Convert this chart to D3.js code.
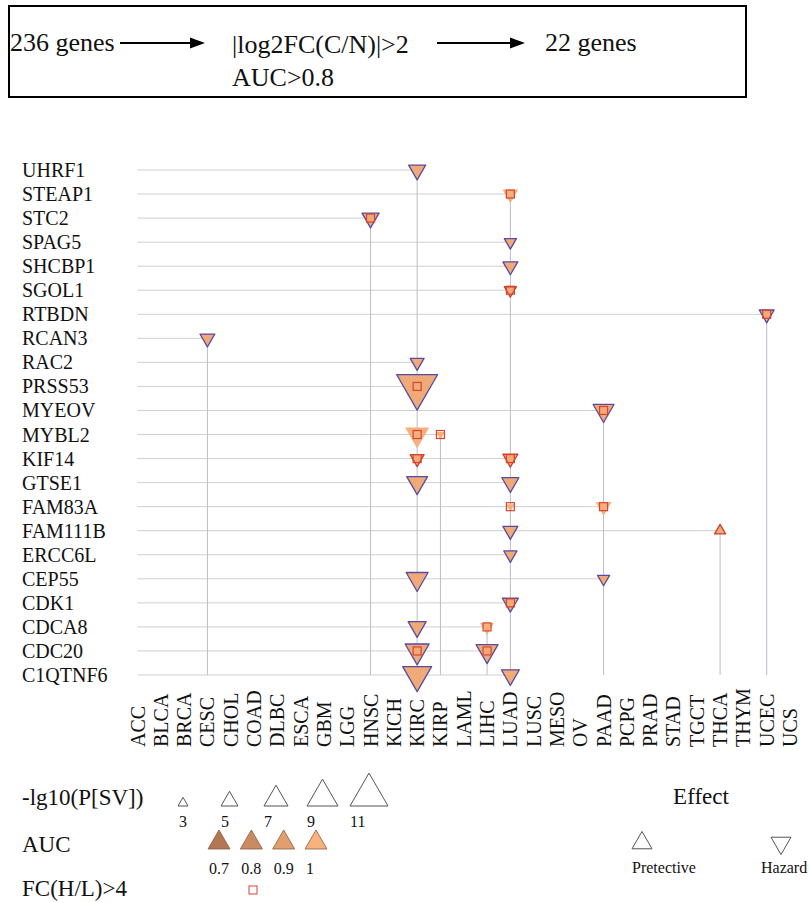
<!DOCTYPE html>
<html>
<head>
<meta charset="utf-8">
<script src="https://cdn.jsdelivr.net/npm/d3@7"></script>
<style>
    body { margin: 0; background: #fff; }
    text { font-family: "Liberation Serif", "Times New Roman", serif; fill: #111; }
</style>
</head>
<body>
<script>
const width = 809;
const height = 903;

// genes (rows, top to bottom) and cancer types (columns)
const genes = ["UHRF1", "STEAP1", "STC2", "SPAG5", "SHCBP1", "SGOL1", "RTBDN", "RCAN3", "RAC2",
    "PRSS53", "MYEOV", "MYBL2", "KIF14", "GTSE1", "FAM83A", "FAM111B", "ERCC6L", "CEP55",
    "CDK1", "CDCA8", "CDC20", "C1QTNF6"];
const cancers = ["ACC", "BLCA", "BRCA", "CESC", "CHOL", "COAD", "DLBC", "ESCA", "GBM", "LGG",
    "HNSC", "KICH", "KIRC", "KIRP", "LAML", "LIHC", "LUAD", "LUSC", "MESO", "OV", "PAAD",
    "PCPG", "PRAD", "STAD", "TGCT", "THCA", "THYM", "UCEC", "UCS"];

// significant hits
const hitGene = ["UHRF1", "STEAP1", "STC2", "SPAG5", "SHCBP1", "SGOL1", "RTBDN", "RCAN3", "RAC2",
    "PRSS53", "MYEOV", "MYBL2", "MYBL2", "KIF14", "KIF14", "GTSE1", "GTSE1", "FAM83A", "FAM83A",
    "FAM111B", "FAM111B", "ERCC6L", "CEP55", "CEP55", "CDK1", "CDCA8", "CDCA8", "CDC20", "CDC20",
    "C1QTNF6", "C1QTNF6"];
const hitCancer = ["KIRC", "LUAD", "HNSC", "LUAD", "LUAD", "LUAD", "UCEC", "CESC", "KIRC",
    "KIRC", "PAAD", "KIRC", "KIRP", "KIRC", "LUAD", "KIRC", "LUAD", "LUAD", "PAAD",
    "LUAD", "THCA", "LUAD", "KIRC", "PAAD", "LUAD", "KIRC", "LIHC", "KIRC", "LIHC",
    "KIRC", "LUAD"];
// -lg10(P[SV])
const hitLogP = [5, 4.7, 5, 3.6, 4.4, 3.6, 4.4, 4.4, 4.1,
    11.9, 6.1, 7, 2.6, 4.1, 4.4, 6.1, 5, 2.6, 4.7,
    4.4, 3.3, 3.9, 6.4, 3.6, 4.7, 5.3, 4.1, 7, 6.4,
    8.4, 5.3];
const hitAUC = [0.96, 0.99, 0.96, 0.96, 0.96, 0.96, 0.96, 0.96, 0.96,
    0.96, 0.96, 0.99, 0.99, 0.96, 0.96, 0.96, 0.96, 0.99, 0.99,
    0.96, 0.96, 0.96, 0.96, 0.96, 0.96, 0.96, 0.99, 0.96, 0.96,
    0.96, 0.96];
// FC(H/L)>4
const hitFC = [0, 1, 1, 0, 0, 1, 1, 0, 0,
    1, 1, 1, 1, 1, 1, 0, 0, 1, 1,
    0, 0, 0, 0, 0, 1, 0, 1, 1, 1,
    0, 0];
// 1 = hazard, -1 = protective
const hitEffect = [1, 1, 1, 1, 1, 1, 1, 1, 1,
    1, 1, 1, 1, 1, 1, 1, 1, 1, 1,
    1, -1, 1, 1, 1, 1, 1, 1, 1, 1,
    1, 1];
// outline group: 0 none, 1 blue, 2 red
const hitEdge = [1, 0, 1, 1, 1, 2, 1, 1, 1,
    1, 1, 0, 0, 2, 2, 1, 1, 0, 0,
    1, 2, 1, 1, 1, 1, 1, 0, 1, 1,
    1, 1];

// legend values
const sizeLegend = [3, 5, 7, 9, 11];
const aucLegend = [0.7, 0.8, 0.9, 1];
const effectLegend = ["Pretective", "Hazard"];

const hits = d3.range(hitGene.length).map((i) => ({
    gene: hitGene[i],
    cancer: hitCancer[i],
    logp: hitLogP[i],
    auc: hitAUC[i],
    fc: hitFC[i],
    effect: hitEffect[i],
    edge: hitEdge[i],
}));

const svg = d3
    .select("body")
    .append("svg")
    .attr("width", width)
    .attr("height", height);

const x = d3.scalePoint().domain(cancers).range([137.5, 790]);
const y = d3.scalePoint().domain(genes).range([170, 675]);
const triWidth = d3.scaleLinear().domain([3, 11]).range([10, 38]);
const aucColour = d3.scaleLinear().domain([0.7, 1]).range(["#b27853", "#f8b27e"]);
const edgeColour = d3.scaleOrdinal().domain([0, 1, 2]).range(["none", "#5a4aa4", "#c9402e"]);

// triangle centred on its centroid, up = protective
function triangle(w, up) {
    const h = (w * Math.sqrt(3)) / 2;
    const s = up ? 1 : -1;
    return `M0,${(-s * 2 * h) / 3}L${w / 2},${(s * h) / 3}L${-w / 2},${(s * h) / 3}Z`;
}

//// top box ////
const box = svg.append("g");
box.append("rect")
    .attr("x", 9).attr("y", 6)
    .attr("width", 737).attr("height", 91)
    .attr("fill", "none").attr("stroke", "#000").attr("stroke-width", 2);

function arrow(x1, x2, yy) {
    box.append("line")
        .attr("x1", x1).attr("x2", x2 - 12)
        .attr("y1", yy).attr("y2", yy)
        .attr("stroke", "#000").attr("stroke-width", 2);
    box.append("path")
        .attr("d", `M${x2},${yy}L${x2 - 15},${yy - 5.5}L${x2 - 15},${yy + 5.5}Z`)
        .attr("fill", "#000");
}
box.append("text").attr("x", 10).attr("y", 51).attr("font-size", 26).text("236 genes");
arrow(120, 205, 43);
box.append("text").attr("x", 232).attr("y", 53).attr("font-size", 26).text("|log2FC(C/N)|>2");
box.append("text").attr("x", 232).attr("y", 86).attr("font-size", 26).text("AUC>0.8");
arrow(437, 525, 43);
box.append("text").attr("x", 545).attr("y", 51).attr("font-size", 26).text("22 genes");

//// grid lines ////
const grid = svg.append("g");
const byGene = d3.rollup(hits, (v) => d3.max(v, (d) => x(d.cancer)), (d) => d.gene);
grid.selectAll(".hline")
    .data(genes)
    .join("line")
    .attr("class", "hline")
    .attr("x1", x(cancers[0]))
    .attr("x2", (g) => byGene.get(g))
    .attr("y1", (g) => y(g))
    .attr("y2", (g) => y(g))
    .attr("stroke", "#cfcfd4")
    .attr("stroke-width", 1);

const byCancer = d3.rollup(hits, (v) => d3.min(v, (d) => y(d.gene)), (d) => d.cancer);
grid.selectAll(".vline")
    .data(Array.from(byCancer.keys()))
    .join("line")
    .attr("class", "vline")
    .attr("x1", (c) => x(c))
    .attr("x2", (c) => x(c))
    .attr("y1", (c) => byCancer.get(c))
    .attr("y2", y(genes[genes.length - 1]))
    .attr("stroke", "#bcbcca")
    .attr("stroke-width", 1);

//// labels ////
svg.append("g")
    .selectAll("text")
    .data(genes)
    .join("text")
    .attr("x", 22)
    .attr("y", (g) => y(g))
    .attr("dy", "0.35em")
    .attr("font-size", 20)
    .text((g) => g);

svg.append("g")
    .selectAll("text")
    .data(cancers)
    .join("text")
    .attr("transform", (c) => `translate(${x(c)},747) rotate(-90)`)
    .attr("dy", "0.35em")
    .attr("font-size", 20)
    .text((c) => c);

//// marks ////
svg.append("g")
    .selectAll("path")
    .data(hits)
    .join("path")
    .attr("transform", (d) => `translate(${x(d.cancer)},${y(d.gene)})`)
    .attr("d", (d) => triangle(triWidth(d.logp), d.effect < 0))
    .attr("fill", (d) => aucColour(d.auc))
    .attr("stroke", (d) => edgeColour(d.edge))
    .attr("stroke-width", 1.3)
    .attr("stroke-linejoin", "round");

svg.append("g")
    .selectAll("rect")
    .data(hits.filter((d) => d.fc))
    .join("rect")
    .attr("x", (d) => x(d.cancer) - 4)
    .attr("y", (d) => y(d.gene) - 4)
    .attr("width", 8)
    .attr("height", 8)
    .attr("fill", "none")
    .attr("stroke", "#d8442c")
    .attr("stroke-width", 1.2);

//// legend ////
const lg = svg.append("g");
lg.append("text").attr("x", 22).attr("y", 805).attr("font-size", 23).text("-lg10(P[SV])");
const sizeX = d3.scalePoint().domain(sizeLegend).range([183, 369]);
lg.selectAll(".sz")
    .data(sizeLegend)
    .join("path")
    .attr("class", "sz")
    .attr("transform", (v) => `translate(${sizeX(v)},${806 - (triWidth(v) * Math.sqrt(3)) / 6})`)
    .attr("d", (v) => triangle(triWidth(v), true))
    .attr("fill", "#fff")
    .attr("stroke", "#555")
    .attr("stroke-width", 1);
lg.selectAll(".szl")
    .data(sizeLegend)
    .join("text")
    .attr("class", "szl")
    .attr("x", (v) => sizeX(v) - triWidth(v) / 2 + (v === 3 ? 1 : 0))
    .attr("y", 827)
    .attr("font-size", 16)
    .text((v) => v);

lg.append("text").attr("x", 22).attr("y", 852).attr("font-size", 23).text("AUC");
const aucX = d3.scalePoint().domain(aucLegend).range([219, 316]);
lg.selectAll(".auc")
    .data(aucLegend)
    .join("path")
    .attr("class", "auc")
    .attr("transform", (v) => `translate(${aucX(v)},${849 - (22 * Math.sqrt(3)) / 6})`)
    .attr("d", triangle(22, true))
    .attr("fill", (v) => aucColour(v))
    .attr("stroke", "#8a5a3c")
    .attr("stroke-width", 0.8);
lg.selectAll(".aucl")
    .data(aucLegend)
    .join("text")
    .attr("class", "aucl")
    .attr("x", (v) => aucX(v) - 10)
    .attr("y", 874)
    .attr("font-size", 16)
    .text((v) => v);

lg.append("text").attr("x", 22).attr("y", 896).attr("font-size", 23).text("FC(H/L)>4");
lg.append("rect")
    .attr("x", 249).attr("y", 886)
    .attr("width", 8).attr("height", 8)
    .attr("fill", "none").attr("stroke", "#d8442c").attr("stroke-width", 1);

lg.append("text").attr("x", 701).attr("y", 804).attr("text-anchor", "middle")
    .attr("font-size", 23).text("Effect");
const effX = d3.scaleOrdinal().domain(effectLegend).range([642, 781]);
lg.selectAll(".eff")
    .data(effectLegend)
    .join("path")
    .attr("class", "eff")
    .attr("transform", (e) => `translate(${effX(e)},843)`)
    .attr("d", (e, i) => triangle(20, i === 0))
    .attr("fill", "#fff")
    .attr("stroke", "#555")
    .attr("stroke-width", 1);
lg.selectAll(".effl")
    .data(effectLegend)
    .join("text")
    .attr("class", "effl")
    .attr("x", (e, i) => effX(e) - (i === 0 ? 10 : 20))
    .attr("y", 873)
    .attr("font-size", 16)
    .text((e) => e);
</script>
</body>
</html>
